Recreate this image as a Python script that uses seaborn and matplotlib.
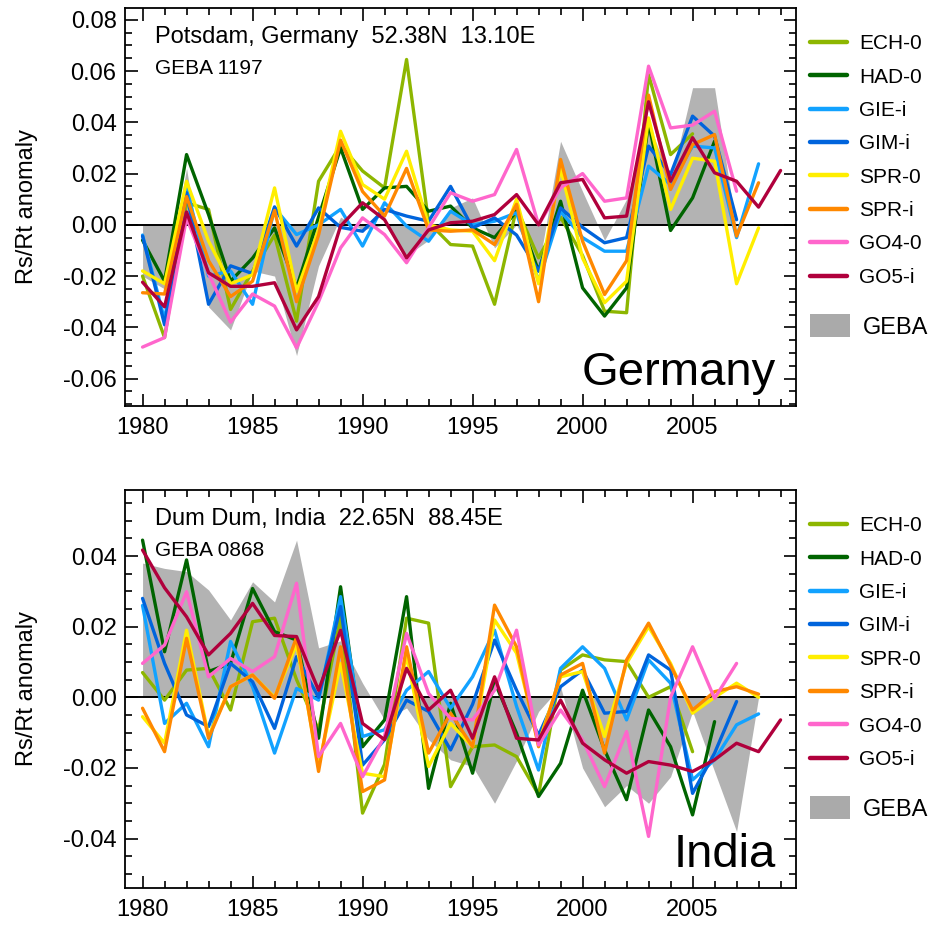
import numpy as np
import pandas as pd
import matplotlib
matplotlib.use('Agg')
import matplotlib.pyplot as plt
from matplotlib.lines import Line2D
from matplotlib.patches import Patch
from matplotlib.ticker import MultipleLocator, FormatStrFormatter
import seaborn as sns

nan = np.nan
years = list(range(1980, 2010))
models = ['ECH-0', 'HAD-0', 'GIE-i', 'GIM-i', 'SPR-0', 'SPR-i', 'GO4-0', 'GO5-i']
colors = ['#8db600', '#006400', '#12a2ff', '#0064dc', '#ffee00', '#ff8800', '#ff66cc', '#b0003c']

# ---- Potsdam, Germany ----
de_ech0 = [-0.020, -0.044, 0.0086, 0.006, -0.033, -0.018, -0.004, -0.0376, 0.017, 0.031, 0.021, 0.0144, 0.0645, 0.001, -0.0077, -0.0083, -0.031, 0.0066, -0.0129, 0.003, -0.012, -0.0337, -0.0343, 0.0586, 0.0274, 0.0355, nan, nan, nan, nan]
de_had0 = [-0.006, -0.022, 0.0274, 0.004, -0.022, -0.013, -0.0012, -0.0246, 0.003, 0.030, 0.006, 0.0144, 0.015, 0.0053, 0.0073, -0.0012, -0.005, 0.0053, -0.018, 0.0092, -0.0246, -0.0356, -0.0246, 0.040, -0.0022, 0.0105, 0.0326, nan, nan, nan]
de_giei = [-0.004, -0.037, 0.0144, -0.020, -0.018, -0.031, 0.0066, -0.0038, 0.0, 0.006, -0.0083, 0.0086, -0.0005, -0.0064, 0.0053, 0.0, 0.0014, 0.0047, -0.022, 0.0053, -0.005, -0.0103, -0.0103, 0.0229, 0.0157, 0.0307, 0.030, -0.005, 0.0238, nan]
de_gimi = [-0.0044, -0.039, 0.0125, -0.031, -0.016, -0.019, 0.007, -0.0083, 0.0066, -0.001, -0.0025, 0.006, 0.0034, 0.0014, 0.015, -0.0012, 0.0027, -0.004, -0.018, 0.0066, -0.001, -0.007, -0.005, 0.0307, 0.0196, 0.0424, 0.0346, 0.002, nan, nan]
de_spr0 = [-0.018, -0.023, 0.017, -0.0064, -0.023, -0.0195, 0.0144, -0.026, -0.002, 0.0365, 0.0157, 0.010, 0.0287, 0.0, -0.002, -0.0025, -0.014, 0.010, -0.023, 0.022, -0.013, -0.0304, -0.022, 0.0417, 0.006, 0.026, 0.0248, -0.023, -0.0012, nan]
de_spri = [-0.0265, -0.027, 0.011, -0.014, -0.028, -0.022, 0.0056, -0.030, -0.004, 0.033, 0.013, 0.0034, 0.022, -0.002, -0.0025, -0.002, -0.0077, 0.008, -0.030, 0.0255, -0.0064, -0.0272, -0.014, 0.0506, 0.0138, 0.0313, 0.0352, -0.0044, 0.0164, nan]
de_go40 = [-0.0477, -0.044, 0.0027, -0.019, -0.038, -0.027, -0.0317, -0.048, -0.030, -0.009, 0.0027, -0.0038, -0.0148, -0.0012, 0.0125, 0.0092, 0.0118, 0.0294, 0.0, 0.0144, 0.020, 0.0092, 0.0105, 0.0619, 0.0378, 0.0389, 0.0443, 0.0131, nan, nan]
de_go5i = [-0.0224, -0.032, 0.005, -0.0187, -0.024, -0.024, -0.0226, -0.041, -0.028, -0.0005, 0.0086, 0.002, -0.0129, -0.002, 0.0008, 0.0014, 0.004, 0.0118, 0.0, 0.0164, 0.0177, 0.0027, 0.0034, 0.048, 0.017, 0.034, 0.0203, 0.017, 0.0069, 0.0212]
de_geba = [-0.020, -0.025, 0.022, -0.032, -0.041, -0.018, -0.020, -0.051, -0.016, 0.003, -0.002, 0.0, -0.012, -0.006, 0.0066, 0.0105, -0.009, 0.0, -0.017, 0.0326, 0.013, -0.006, 0.010, 0.040, 0.017, 0.0535, 0.0535, -0.002, nan, nan]

# ---- Dum Dum, India ----
in_ech0 = [0.007, -0.0008, 0.0077, 0.0082, -0.0036, 0.0214, 0.0224, 0.005, -0.0092, 0.0228, -0.0328, -0.019, 0.0224, 0.021, -0.0253, -0.014, -0.0135, -0.0168, -0.0276, 0.0077, 0.012, 0.0106, 0.0101, 0.0, 0.003, -0.0154, nan, nan, nan, nan]
in_had0 = [0.0445, 0.0129, 0.0389, 0.0073, 0.0096, 0.0308, 0.0186, 0.0162, -0.0116, 0.0313, -0.014, -0.0064, 0.0285, -0.0258, -0.0017, -0.0215, 0.0044, -0.0102, -0.0281, -0.0187, 0.002, -0.0149, -0.029, -0.0036, -0.014, -0.0333, -0.0069, nan, nan, nan]
in_giei = [0.026, -0.0074, -0.0017, -0.014, 0.0158, 0.003, -0.0158, 0.0025, -0.0008, 0.0285, -0.0111, -0.0092, 0.002, 0.0073, -0.0031, 0.0058, 0.019, -0.0026, -0.0206, 0.0082, 0.0143, 0.0082, -0.0064, 0.0106, 0.004, -0.0234, -0.0177, -0.0078, -0.0047, nan]
in_gimi = [0.028, 0.0096, -0.005, -0.0083, 0.0096, 0.0044, -0.0088, 0.0115, 0.0, 0.0257, -0.0192, -0.012, -0.0008, -0.004, -0.0149, -0.002, 0.0162, 0.002, -0.0107, 0.003, 0.0077, -0.0045, -0.004, 0.012, 0.0077, -0.0272, -0.0158, -0.0012, nan, nan]
in_spr0 = [-0.0055, -0.013, 0.019, -0.011, 0.003, 0.0063, 0.0, 0.015, -0.0196, 0.0096, -0.0215, -0.0225, 0.012, -0.0196, -0.0074, -0.014, 0.0219, 0.0125, -0.013, 0.0058, 0.0073, -0.0111, 0.0096, 0.020, 0.0096, -0.0045, 0.0, 0.004, 0.0, nan]
in_spri = [-0.0031, -0.0154, 0.0167, -0.0116, 0.003, 0.0063, -0.0003, 0.017, -0.021, 0.0143, -0.0267, -0.0234, 0.0143, -0.0158, -0.0045, -0.014, 0.0261, 0.0143, -0.014, 0.0063, 0.0096, -0.0158, 0.0106, 0.021, 0.009, -0.0036, 0.0016, 0.003, 0.0009, nan]
in_go40 = [0.0096, 0.0148, 0.0299, 0.0058, 0.011, 0.0073, 0.0115, 0.0323, -0.0168, -0.0074, -0.0225, -0.011, 0.0181, 0.0011, -0.006, -0.0064, 0.002, 0.019, -0.0135, -0.0036, -0.0121, -0.0253, -0.0097, -0.0394, 0.0, 0.0143, -0.0003, 0.0096, nan, nan]
in_go5i = [0.0417, 0.031, 0.0228, 0.012, 0.0181, 0.0266, 0.0175, 0.0172, 0.002, 0.019, -0.0074, -0.012, 0.0082, -0.0036, 0.002, -0.0116, 0.0058, -0.0116, -0.0121, -0.0008, -0.013, -0.0177, -0.0215, -0.0182, -0.0192, -0.021, -0.0177, -0.013, -0.0154, -0.0064]
in_geba = [0.038, 0.0365, 0.0356, 0.0304, 0.0219, 0.0327, 0.027, 0.0445, 0.014, 0.016, 0.004, -0.0064, -0.003, -0.012, -0.0177, -0.0196, -0.030, -0.018, -0.004, 0.003, -0.020, -0.031, -0.025, -0.030, -0.0225, -0.004, -0.021, -0.038, 0.0, nan]

de_yticks = [-0.06, -0.04, -0.02, 0.00, 0.02, 0.04, 0.06, 0.08]
in_yticks = [-0.04, -0.02, 0.00, 0.02, 0.04]
xticks = [1980, 1985, 1990, 1995, 2000, 2005]

sns.set_style('ticks')
plt.rcParams['font.family'] = ['Liberation Sans', 'DejaVu Sans']
plt.rcParams['axes.unicode_minus'] = False
for k in ['text.color', 'axes.labelcolor', 'xtick.color', 'ytick.color', 'axes.edgecolor']:
    plt.rcParams[k] = 'black'

fig = plt.figure(figsize=(9.36, 9.27), dpi=100)
ax1 = fig.add_axes([0.1335, 0.5620, 0.7169, 0.4294])
ax2 = fig.add_axes([0.1335, 0.0421, 0.7169, 0.4293])


def panel(ax, series, geba, ylim, yticks, title, sub, big):
    rows = []
    for m, s in zip(models, series):
        for y, v in zip(years, s):
            if not np.isnan(v):
                rows.append((y, v, m))
    df = pd.DataFrame(rows, columns=['year', 'value', 'model'])
    ax.fill_between(years, 0, np.array(geba, dtype=float), color='#b3b3b3', lw=0, zorder=1)
    ax.axhline(0, color='black', lw=1.4, zorder=2)
    sns.lineplot(data=df, x='year', y='value', hue='model', hue_order=models,
                 palette=colors, linewidth=2.4, legend=False, ax=ax,
                 estimator=None, zorder=3)
    ax.set_xlim(1979.2, 2009.7)
    ax.set_ylim(*ylim)
    ax.set_xticks(xticks)
    ax.set_yticks(yticks)
    ax.yaxis.set_major_formatter(FormatStrFormatter('%.2f'))
    ax.xaxis.set_minor_locator(MultipleLocator(1))
    ax.yaxis.set_minor_locator(MultipleLocator(0.005))
    ax.tick_params(which='both', direction='in', top=True, right=True, width=1.2,
                   labelsize=17, colors='black')
    ax.tick_params(which='major', length=9)
    ax.tick_params(which='minor', length=5)
    ax.tick_params(axis='x', pad=8)
    ax.tick_params(axis='y', pad=6)
    for sp in ax.spines.values():
        sp.set_linewidth(1.3)
        sp.set_color('black')
    ax.set_xlabel('')
    ax.set_ylabel('Rs/Rt anomaly', fontsize=17, color='black')
    ax.yaxis.set_label_coords(-0.13, 0.5)
    ax.text(0.045, 0.955, title, transform=ax.transAxes, fontsize=17, va='top', ha='left', color='black')
    ax.text(0.045, 0.872, sub, transform=ax.transAxes, fontsize=15, va='top', ha='left', color='black')
    ax.text(0.97, 0.053, big, transform=ax.transAxes, fontsize=34, va='baseline', ha='right', color='black')

    handles = [Line2D([], [], color=c, lw=3.2) for c in colors]
    leg = ax.legend(handles, models, loc='upper left', bbox_to_anchor=(1.021, 0.934),
                    frameon=False, fontsize=15, handlelength=1.75, handletextpad=0.6,
                    labelspacing=0.69, borderpad=0, borderaxespad=0, labelcolor='black')
    ax.add_artist(leg)
    ax.legend([Patch(facecolor='#aaaaaa', edgecolor='none')], ['GEBA'], loc='center left',
              bbox_to_anchor=(1.021, 0.2), frameon=False, fontsize=17,
              handlelength=1.7, handleheight=1.1, handletextpad=0.55, borderpad=0,
              borderaxespad=0, labelcolor='black')


panel(ax1, [de_ech0, de_had0, de_giei, de_gimi, de_spr0, de_spri, de_go40, de_go5i], de_geba,
      (-0.0707, 0.0846), de_yticks, 'Potsdam, Germany  52.38N  13.10E', 'GEBA 1197', 'Germany')
panel(ax2, [in_ech0, in_had0, in_giei, in_gimi, in_spr0, in_spri, in_go40, in_go5i], in_geba,
      (-0.054, 0.0587), in_yticks, 'Dum Dum, India  22.65N  88.45E', 'GEBA 0868', 'India')

fig.savefig('out.png', dpi=100)
